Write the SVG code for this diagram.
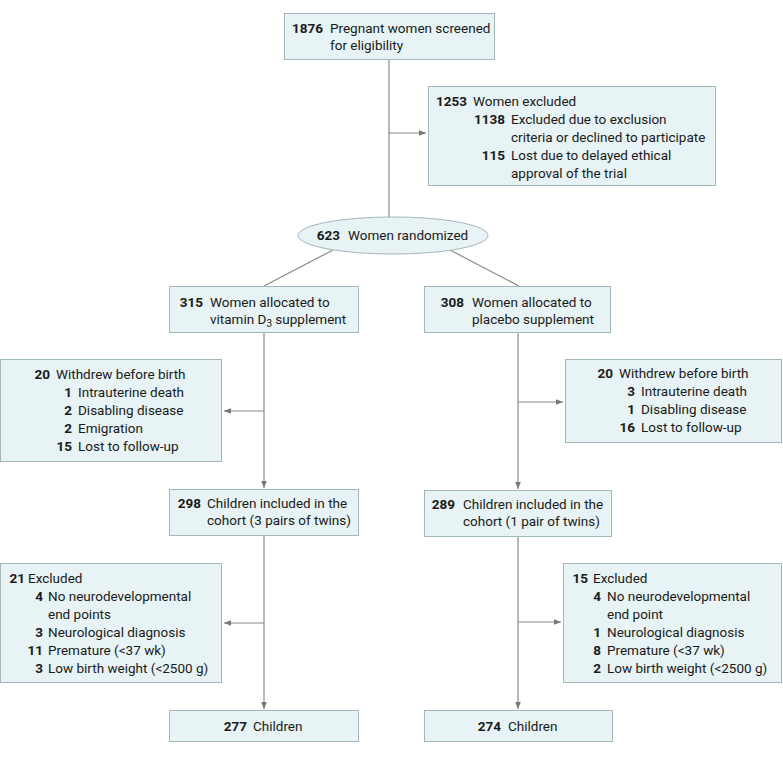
<svg xmlns="http://www.w3.org/2000/svg" width="783" height="758" viewBox="0 0 783 758">
<style>
.box{fill:#e7f3f4;stroke:#a3b6ba;stroke-width:1}
.ln{fill:none;stroke:#8a8a8a;stroke-width:1.2}
text{font-family:Roboto,"Liberation Sans",sans-serif;font-size:13.5px;fill:#1a1a1a}
.n{font-weight:bold;text-anchor:end}
</style>
<defs>
<marker id="ah" viewBox="0 0 10 10" refX="10" refY="5" markerWidth="7" markerHeight="7" markerUnits="userSpaceOnUse" orient="auto">
<path d="M0,1 L10,5 L0,9 Z" fill="#777"/>
</marker>
</defs>
<rect width="783" height="758" fill="#fff"/>
<g id="connectors">
<line class="ln" x1="389" y1="59" x2="389" y2="217"/>
<line class="ln" x1="389" y1="133" x2="426" y2="133" marker-end="url(#ah)"/>
<line class="ln" x1="333" y1="250" x2="264" y2="286"/>
<line class="ln" x1="450" y1="250" x2="519" y2="286"/>
<line class="ln" x1="264" y1="332" x2="264" y2="488" marker-end="url(#ah)"/>
<line class="ln" x1="264" y1="411" x2="224" y2="411" marker-end="url(#ah)"/>
<line class="ln" x1="518" y1="332" x2="518" y2="489" marker-end="url(#ah)"/>
<line class="ln" x1="518" y1="402" x2="563" y2="402" marker-end="url(#ah)"/>
<line class="ln" x1="264" y1="535" x2="264" y2="709" marker-end="url(#ah)"/>
<line class="ln" x1="264" y1="623" x2="224" y2="623" marker-end="url(#ah)"/>
<line class="ln" x1="518" y1="536" x2="518" y2="709" marker-end="url(#ah)"/>
<line class="ln" x1="518" y1="622" x2="561" y2="622" marker-end="url(#ah)"/>
</g>
<g id="screened">
<rect class="box" x="284.5" y="13.5" width="210" height="46"/>
<text class="n" x="323" y="33">1876</text>
<text x="330" y="33">Pregnant women screened</text>
<text x="330" y="50">for eligibility</text>
</g>
<g id="excluded1">
<rect class="box" x="428.5" y="86.5" width="287" height="99"/>
<text class="n" x="467" y="106">1253</text>
<text x="473" y="106">Women excluded</text>
<text class="n" x="505" y="124">1138</text>
<text x="511" y="124">Excluded due to exclusion</text>
<text x="511" y="142">criteria or declined to participate</text>
<text class="n" x="505" y="160">115</text>
<text x="511" y="160">Lost due to delayed ethical</text>
<text x="511" y="178">approval of the trial</text>
</g>
<g id="randomized">
<ellipse class="box" cx="393" cy="235.5" rx="95" ry="18.5"/>
<text class="n" x="340" y="240">623</text>
<text x="348" y="240">Women randomized</text>
</g>
<g id="vitd">
<rect class="box" x="169.5" y="286.5" width="189" height="46"/>
<text class="n" x="203" y="307">315</text>
<text x="210" y="307">Women allocated to</text>
<text x="210" y="324">vitamin D<tspan dy="3" font-size="10">3</tspan><tspan dy="-3"> supplement</tspan></text>
</g>
<g id="placebo">
<rect class="box" x="424.5" y="286.5" width="186" height="46"/>
<text class="n" x="464" y="307">308</text>
<text x="472" y="307">Women allocated to</text>
<text x="472" y="324">placebo supplement</text>
</g>
<g id="withdrew-left">
<rect class="box" x="0.5" y="359.5" width="221" height="102"/>
<text class="n" x="50" y="379">20</text>
<text x="56" y="379">Withdrew before birth</text>
<text class="n" x="72" y="397">1</text>
<text x="78" y="397">Intrauterine death</text>
<text class="n" x="72" y="415">2</text>
<text x="78" y="415">Disabling disease</text>
<text class="n" x="72" y="433">2</text>
<text x="78" y="433">Emigration</text>
<text class="n" x="72" y="451">15</text>
<text x="78" y="451">Lost to follow-up</text>
</g>
<g id="withdrew-right">
<rect class="box" x="565.5" y="359.5" width="216" height="83"/>
<text class="n" x="613" y="378">20</text>
<text x="619" y="378">Withdrew before birth</text>
<text class="n" x="635" y="396">3</text>
<text x="641" y="396">Intrauterine death</text>
<text class="n" x="635" y="414">1</text>
<text x="641" y="414">Disabling disease</text>
<text class="n" x="635" y="432">16</text>
<text x="641" y="432">Lost to follow-up</text>
</g>
<g id="cohort-left">
<rect class="box" x="169.5" y="489.5" width="189" height="46"/>
<text class="n" x="201" y="508">298</text>
<text x="207" y="508">Children included in the</text>
<text x="207" y="525">cohort (3 pairs of twins)</text>
</g>
<g id="cohort-right">
<rect class="box" x="424.5" y="490.5" width="187" height="46"/>
<text class="n" x="455" y="509">289</text>
<text x="463" y="509">Children included in the</text>
<text x="463" y="526">cohort (1 pair of twins)</text>
</g>
<g id="excluded-left">
<rect class="box" x="0.5" y="563.5" width="221" height="119"/>
<text class="n" x="25" y="583">21</text>
<text x="28" y="583">Excluded</text>
<text class="n" x="43" y="601">4</text>
<text x="48" y="601">No neurodevelopmental</text>
<text x="48" y="619">end points</text>
<text class="n" x="43" y="637">3</text>
<text x="48" y="637">Neurological diagnosis</text>
<text class="n" x="43" y="655">11</text>
<text x="48" y="655">Premature (&lt;37 wk)</text>
<text class="n" x="43" y="673">3</text>
<text x="48" y="673">Low birth weight (&lt;2500 g)</text>
</g>
<g id="excluded-right">
<rect class="box" x="563.5" y="563.5" width="218" height="119"/>
<text class="n" x="588" y="583">15</text>
<text x="593" y="583">Excluded</text>
<text class="n" x="601" y="601">4</text>
<text x="607" y="601">No neurodevelopmental</text>
<text x="607" y="619">end point</text>
<text class="n" x="601" y="637">1</text>
<text x="607" y="637">Neurological diagnosis</text>
<text class="n" x="601" y="655">8</text>
<text x="607" y="655">Premature (&lt;37 wk)</text>
<text class="n" x="601" y="673">2</text>
<text x="607" y="673">Low birth weight (&lt;2500 g)</text>
</g>
<g id="final-left">
<rect class="box" x="169.5" y="710.5" width="189" height="31"/>
<text class="n" x="247" y="731">277</text>
<text x="253" y="731">Children</text>
</g>
<g id="final-right">
<rect class="box" x="424.5" y="710.5" width="188" height="31"/>
<text class="n" x="501" y="731">274</text>
<text x="508" y="731">Children</text>
</g>
</svg>
